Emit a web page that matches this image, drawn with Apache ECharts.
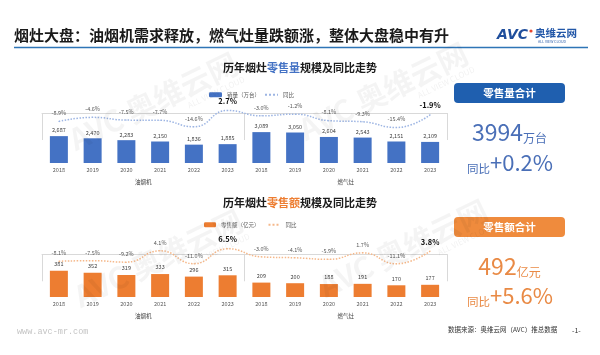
<!DOCTYPE html>
<html><head><meta charset="utf-8">
<script src="https://cdn.jsdelivr.net/npm/echarts@6/dist/echarts.min.js"></script>
<style>html,body{margin:0;padding:0;background:#fff}#c{width:600px;height:355px}</style>
</head><body><div id="c"></div>
<script>
// ---- data ----
const years = ['2018', '2019', '2020', '2021', '2022', '2023'];
const groups = ['油烟机', '燃气灶'];
const volHood = [2687, 2470, 2283, 2150, 1836, 1885];
const volStove = [3089, 3050, 2604, 2543, 2151, 2109];
const volYoyHood = [-8.9, -4.6, -7.5, -7.7, -14.6, 2.7];
const volYoyStove = [-3.0, -1.2, -8.1, -9.3, -15.4, -1.9];
const valHood = [381, 352, 319, 333, 296, 315];
const valStove = [209, 200, 188, 191, 170, 177];
const valYoyHood = [-8.1, -7.5, -9.2, 4.1, -11.0, 6.5];
const valYoyStove = [-3.0, -4.1, -5.9, 1.7, -11.1, 3.8];
const totalVolume = 3994, totalVolumeYoy = 0.2;
const totalValue = 492, totalValueYoy = 5.6;

const FONT = '"Noto Sans CJK SC", "Noto Sans", sans-serif';
const BLUE = '#4472C4', ORANGE = '#ED7D31';

const cats = [];
groups.forEach(g => years.forEach(y => cats.push(g + '|' + y)));

function withBold(arr) {
  return arr.map((v, i) => (i % years.length === years.length - 1)
    ? { value: v, label: { fontSize: 7.5, fontWeight: 'bold', color: '#111' } } : v);
}
function fmtK(v) { return v.toLocaleString('en-US'); }
function fmtP(v) { return v.toFixed(1) + '%'; }

function xAxesFor(gi) {
  return [
    { gridIndex: gi, type: 'category', data: cats, axisLine: { show: false }, axisTick: { show: false },
      axisLabel: { interval: 0, margin: 4, fontSize: 5.5, color: '#595959', fontFamily: FONT,
        formatter: v => v.split('|')[1] } },
    { gridIndex: gi, type: 'category', data: groups, position: 'bottom',
      axisLine: { show: true, lineStyle: { color: '#d9d9d9', width: 1 } },
      axisTick: { show: true, length: 27, lineStyle: { color: '#d9d9d9' } },
      axisLabel: { margin: 16, fontSize: 5.5, color: '#404040', fontFamily: FONT } }
  ];
}

const chart = echarts.init(document.getElementById('c'));

function wm(x, y) {
  return { type: 'text', x: x, y: y, rotation: 0.45, silent: true, z: 100,
    style: { text: '{a|AVC 奥维云网}\n{b|ALL VIEW CLOUD}', align: 'center', verticalAlign: 'middle',
      rich: { a: { fontSize: 30, fontWeight: 'bold', fontFamily: FONT, fill: 'rgba(0,0,0,0.045)', align: 'center' },
              b: { fontSize: 8, fontFamily: FONT, fill: 'rgba(0,0,0,0.06)', align: 'right', padding: [0, 0, 0, 60] } } } };
}

const noSym = { opacity: 0 };

const option = {
  animation: false,
  textStyle: { fontFamily: FONT },
  grid: [
    { left: 42, width: 405, top: 80, height: 83 },
    { left: 42, width: 405, top: 215, height: 82 }
  ],
  xAxis: xAxesFor(0).concat(xAxesFor(1)),
  yAxis: [
    { gridIndex: 0, min: 0, max: 8300, show: false },
    { gridIndex: 0, min: -53, max: 35, show: false },
    { gridIndex: 1, min: 0, max: 1190, show: false },
    { gridIndex: 1, min: -50, max: 46, show: false }
  ],
  legend: [
    { data: ['销量（万台）', { name: '同比', itemStyle: noSym }], left: 204, top: 87, itemWidth: 13, itemHeight: 5, itemGap: 4,
      textStyle: { fontSize: 5.5, color: '#595959', fontFamily: FONT } },
    { data: ['零售额（亿元）', { name: '同比 ', itemStyle: noSym }], left: 199, top: 217, itemWidth: 12, itemHeight: 5, itemGap: 8,
      formatter: n => n.trim(), textStyle: { fontSize: 5.5, color: '#595959', fontFamily: FONT } }
  ],
  series: [
    { name: '销量（万台）', type: 'bar', xAxisIndex: 0, yAxisIndex: 0, barWidth: 18,
      data: volHood.concat(volStove), itemStyle: { color: BLUE },
      label: { show: true, position: 'top', distance: 3, fontSize: 5.5, color: '#404040', formatter: p => fmtK(p.value) } },
    { name: '同比', type: 'line', xAxisIndex: 0, yAxisIndex: 1, smooth: true, symbol: 'circle', symbolSize: 1,
      data: withBold(volYoyHood.concat(volYoyStove)), itemStyle: { color: '#9DB5E3' },
      lineStyle: { type: 'dotted', width: 1.5, color: '#9DB5E3' },
      label: { show: true, position: 'top', distance: 5, fontSize: 5.5, color: '#595959', formatter: p => fmtP(p.value) } },
    { name: '零售额（亿元）', type: 'bar', xAxisIndex: 2, yAxisIndex: 2, barWidth: 18,
      data: valHood.concat(valStove), itemStyle: { color: ORANGE },
      label: { show: true, position: 'top', distance: 4, fontSize: 5.5, color: '#404040', formatter: p => fmtK(p.value) } },
    { name: '同比 ', type: 'line', xAxisIndex: 2, yAxisIndex: 3, smooth: true, symbol: 'circle', symbolSize: 1,
      data: withBold(valYoyHood.concat(valYoyStove)), itemStyle: { color: '#F5B88A' },
      lineStyle: { type: 'dotted', width: 1.5, color: '#F5B88A' },
      label: { show: true, position: 'top', distance: 5, fontSize: 5.5, color: '#595959', formatter: p => fmtP(p.value) } }
  ],
  graphic: [
    wm(155, 105), wm(385, 95), wm(160, 262), wm(405, 252),
    { type: 'text', x: 14, y: 35, style: { text: '烟灶大盘：油烟机需求释放，燃气灶量跌额涨，整体大盘稳中有升',
      fontSize: 15, fontWeight: 'bold', fontFamily: FONT, fill: '#1a1a1a', verticalAlign: 'middle' } },
    { type: 'line', shape: { x1: 14, y1: 47.5, x2: 588, y2: 47.5 }, style: { stroke: '#2E75B6', lineWidth: 1.5 } },
    { type: 'text', x: 497, y: 35, style: { text: 'AVC', fontSize: 14, fontWeight: 'bold', fontStyle: 'italic',
      fontFamily: '"DejaVu Sans", sans-serif', fill: '#1F4E9C', verticalAlign: 'middle' } },
    { type: 'circle', shape: { cx: 531, cy: 31, r: 1.6 }, style: { fill: '#E8452C' } },
    { type: 'text', x: 535, y: 33, style: { text: '奥维云网', fontSize: 10.5, fontWeight: 'bold', fontFamily: FONT,
      fill: '#2257A8', verticalAlign: 'middle' } },
    { type: 'text', x: 538, y: 42, style: { text: 'ALL VIEW CLOUD', fontSize: 3.6, fontFamily: FONT,
      fill: '#2257A8', verticalAlign: 'middle' } },
    { type: 'text', x: 300, y: 68, style: { text: '{a|历年烟灶}{b|零售量}{a|规模及同比走势}', align: 'center', verticalAlign: 'middle',
      rich: { a: { fontSize: 11, fontWeight: 'bold', fontFamily: FONT, fill: '#1a1a1a' },
              b: { fontSize: 11, fontWeight: 'bold', fontFamily: FONT, fill: BLUE } } } },
    { type: 'text', x: 300, y: 203, style: { text: '{a|历年烟灶}{b|零售额}{a|规模及同比走势}', align: 'center', verticalAlign: 'middle',
      rich: { a: { fontSize: 11, fontWeight: 'bold', fontFamily: FONT, fill: '#1a1a1a' },
              b: { fontSize: 11, fontWeight: 'bold', fontFamily: FONT, fill: ORANGE } } } },
    // right panel: volume
    { type: 'rect', shape: { x: 454, y: 83, width: 111, height: 20, r: 4 }, style: { fill: '#1F5FAF' } },
    { type: 'text', x: 509.5, y: 93, style: { text: '零售量合计', fontSize: 10.5, fontWeight: 'bold', fontFamily: FONT,
      fill: '#fff', align: 'center', verticalAlign: 'middle' } },
    { type: 'text', x: 509.5, y: 131, style: { text: '{n|' + totalVolume + '}{u|万台}', align: 'center', verticalAlign: 'middle',
      rich: { n: { fontSize: 23, fontFamily: FONT, fill: '#4A6FB7', verticalAlign: 'bottom', lineHeight: 26 },
              u: { fontSize: 12, fontFamily: FONT, fill: '#4A6FB7', verticalAlign: 'bottom', lineHeight: 16 } } } },
    { type: 'text', x: 510, y: 161, style: { text: '{u|同比}{n|+' + totalVolumeYoy.toFixed(1) + '%}', align: 'center', verticalAlign: 'middle',
      rich: { n: { fontSize: 22, fontFamily: FONT, fill: '#4A6FB7', verticalAlign: 'bottom', lineHeight: 26 },
              u: { fontSize: 11.5, fontFamily: FONT, fill: '#4A6FB7', verticalAlign: 'bottom', lineHeight: 16 } } } },
    // right panel: value
    { type: 'rect', shape: { x: 454, y: 217, width: 111, height: 20, r: 4 }, style: { fill: '#EF8B3D' } },
    { type: 'text', x: 509.5, y: 227, style: { text: '零售额合计', fontSize: 10.5, fontWeight: 'bold', fontFamily: FONT,
      fill: '#fff', align: 'center', verticalAlign: 'middle' } },
    { type: 'text', x: 509.5, y: 265, style: { text: '{n|' + totalValue + '}{u|亿元}', align: 'center', verticalAlign: 'middle',
      rich: { n: { fontSize: 23, fontFamily: FONT, fill: '#E98A45', verticalAlign: 'bottom', lineHeight: 26 },
              u: { fontSize: 12, fontFamily: FONT, fill: '#E98A45', verticalAlign: 'bottom', lineHeight: 16 } } } },
    { type: 'text', x: 510, y: 294, style: { text: '{u|同比}{n|+' + totalValueYoy.toFixed(1) + '%}', align: 'center', verticalAlign: 'middle',
      rich: { n: { fontSize: 22, fontFamily: FONT, fill: '#E98A45', verticalAlign: 'bottom', lineHeight: 26 },
              u: { fontSize: 11.5, fontFamily: FONT, fill: '#E98A45', verticalAlign: 'bottom', lineHeight: 16 } } } },
    // footer
    { type: 'text', x: 448, y: 330, style: { text: '数据来源：奥维云网（AVC）推总数据', fontSize: 6.5, fontFamily: FONT,
      fill: '#333', verticalAlign: 'middle' } },
    { type: 'text', x: 572, y: 330, style: { text: '-1-', fontSize: 7, fontFamily: FONT, fill: '#333', verticalAlign: 'middle' } },
    { type: 'text', x: 17, y: 332, style: { text: 'www.avc-mr.com', fontSize: 8.5, fontFamily: '"Liberation Mono", monospace',
      fill: '#c4c4c4', verticalAlign: 'middle' } }
  ]
};
chart.setOption(option);
</script></body></html>
